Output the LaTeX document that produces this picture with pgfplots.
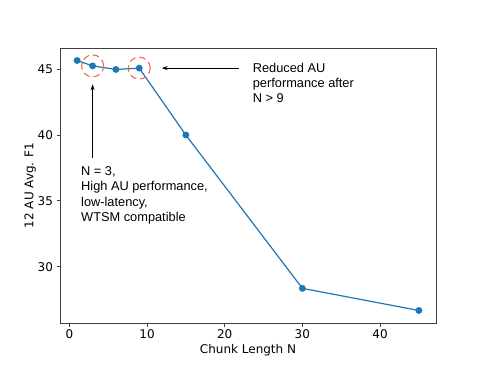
\documentclass[border=0pt]{standalone}
\usepackage{fontspec}
\setmainfont{DejaVu Sans}
\newfontfamily\hel{Liberation Sans}
\usepackage{pgfplots}
\pgfplotsset{compat=1.18}
\usetikzlibrary{arrows.meta}
\definecolor{mplblue}{HTML}{1F77B4}
\definecolor{circred}{HTML}{EE6A50}
\begin{document}
\begin{tikzpicture}
\path[use as bounding box] (0,0) rectangle (485bp,374bp);
\begin{axis}[
  at={(60bp,51bp)}, anchor=south west,
  width=376bp, height=275bp, scale only axis,
  xmin=-1.2, xmax=47.2, ymin=25.72, ymax=46.61,
  xtick={0,10,20,30,40}, ytick={30,35,40,45},
  tick align=outside, tick pos=left,
  major tick length=3.5bp,
  every tick/.style={black!75, line width=0.8bp},
  axis line style={black!75, line width=0.8bp},
  tick label style={font=\fontsize{12bp}{14bp}\selectfont},
  label style={font=\fontsize{12bp}{14bp}\selectfont},
  /pgf/number format/assume math mode=true,
  xlabel={Chunk Length N},
  ylabel={12 AU Avg. F1},
  xlabel style={at={(axis description cs:0.5,0)}, anchor=north, inner sep=0pt, yshift=-21bp},
  ylabel style={at={(axis description cs:0,0.5)}, anchor=south, inner sep=0pt, yshift=24bp},
  clip=false,
]
\addplot[mplblue, line width=1.2bp, mark=*, mark size=2.8bp, mark options={fill=mplblue, draw=mplblue}]
coordinates {(1,45.66) (3,45.25) (6,44.98) (9,45.08) (15,40.0) (30,28.35) (45,26.67)};
\draw[circred, dash pattern=on 6.5bp off 4bp, line width=1.1bp] (axis cs:3,45.25) circle[radius=11bp];
\draw[circred, dash pattern=on 6.5bp off 4bp, line width=1.1bp] (axis cs:9,45.08) circle[radius=11bp];
\draw[black, line width=0.8bp, -{Stealth[length=6bp,width=4bp]}] (axis cs:3,38.28) -- (axis cs:3,43.85);
\draw[black, line width=0.8bp, -{Stealth[length=6bp,width=4bp]}] (axis cs:21.9,45.08) -- (axis cs:11.9,45.08);
\node[anchor=north west, align=left, inner sep=0pt, font=\hel\fontsize{12.8bp}{14.7bp}\selectfont]
  at (axis cs:23.6,45.44) {Reduced AU\\performance after\\N > 9};
\node[anchor=north west, align=left, inner sep=0pt, font=\hel\fontsize{12.8bp}{15.3bp}\selectfont]
  at (axis cs:1.5,37.62) {N = 3,\\High AU performance,\\low-latency,\\WTSM compatible};
\end{axis}
\end{tikzpicture}
\end{document}
